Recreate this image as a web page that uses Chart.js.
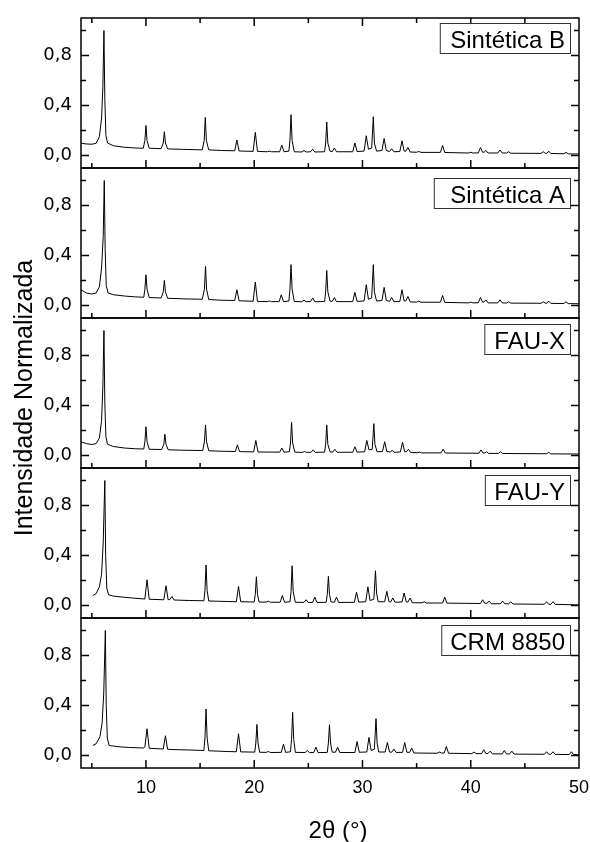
<!DOCTYPE html>
<html>
<head>
<meta charset="utf-8">
<script src="https://cdn.jsdelivr.net/npm/chart.js@4"></script>
<style>
  html, body { margin: 0; padding: 0; background: #fff; }
  canvas { display: block; }
</style>
</head>
<body>
<canvas id="xrd" width="590" height="842"></canvas>
<script>
// Axis ticks
const xTickValues = [10, 20, 30, 40, 50];
const xTickLabels = ['10', '20', '30', '40', '50'];
const xMinorValues = [5, 15, 25, 35, 45];
const yTickValues = [0, 0.4, 0.8];
const yTickLabels = ['0,0', '0,4', '0,8'];
const yMinorValues = [0.2, 0.6, 1.0];

// Samples, top panel first
const sampleNames = ['Sintética B', 'Sintética A', 'FAU-X', 'FAU-Y', 'CRM 8850'];

// Normalised diffractograms: [2θ, intensity]
const sinteticaB = [
  [4.0,0.100],[4.4,0.093],[5.0,0.090],[5.4,0.098],[5.7,0.150],[5.9,0.300],[6.02,0.55],[6.12,1.000],[6.2,0.45],[6.3,0.160],[6.45,0.100],
  [7.0,0.078],[8.0,0.066],[9.0,0.060],[9.75,0.058],[9.9,0.12],[10.0,0.240],[10.1,0.12],[10.3,0.058],[11.4,0.055],[11.6,0.10],[11.7,0.190],[11.8,0.10],[12.0,0.053],
  [13.5,0.049],[15.2,0.045],[15.38,0.12],[15.48,0.305],[15.58,0.12],[15.8,0.045],[17.0,0.040],[18.2,0.038],[18.4,0.124],[18.6,0.036],
  [19.9,0.033],[20.1,0.185],[20.3,0.033],[21.2,0.030],[21.4,0.035],[21.6,0.030],[22.35,0.030],[22.55,0.083],[22.75,0.030],
  [23.2,0.035],[23.3,0.12],[23.4,0.327],[23.5,0.12],[23.7,0.030],[24.4,0.028],[24.6,0.040],[24.8,0.028],[25.2,0.030],[25.4,0.050],[25.6,0.028],
  [26.5,0.030],[26.6,0.10],[26.7,0.268],[26.8,0.10],[27.0,0.035],[27.2,0.030],[27.4,0.060],[27.6,0.030],[29.1,0.030],[29.3,0.100],[29.5,0.032],
  [30.15,0.035],[30.35,0.158],[30.55,0.05],[30.85,0.06],[31.0,0.310],[31.1,0.10],[31.3,0.035],[31.8,0.04],[32.0,0.136],[32.2,0.04],
  [32.5,0.032],[32.7,0.054],[32.9,0.030],[33.45,0.032],[33.65,0.118],[33.85,0.035],[34.0,0.035],[34.2,0.064],[34.4,0.028],
  [35.0,0.026],[35.2,0.032],[35.4,0.025],[37.2,0.025],[37.4,0.080],[37.6,0.024],[39.8,0.020],[40.0,0.026],[40.2,0.020],
  [40.7,0.021],[40.9,0.064],[41.1,0.025],[41.25,0.028],[41.4,0.040],[41.6,0.020],[42.5,0.020],[42.7,0.044],[42.9,0.020],
  [43.3,0.020],[43.5,0.030],[43.7,0.018],[46.5,0.017],[46.7,0.030],[46.9,0.017],[47.05,0.018],[47.2,0.035],[47.4,0.016],
  [48.6,0.014],[48.8,0.025],[49.0,0.013],[50.0,0.012]
];
const sinteticaA = [
  [4.0,0.126],[4.5,0.100],[5.0,0.092],[5.4,0.100],[5.7,0.150],[5.9,0.300],[6.05,0.55],[6.15,1.000],[6.23,0.45],[6.33,0.160],[6.5,0.100],
  [7.0,0.086],[8.0,0.076],[9.0,0.069],[9.8,0.066],[9.9,0.13],[10.0,0.246],[10.1,0.13],[10.3,0.064],[11.4,0.060],[11.6,0.11],[11.7,0.200],[11.8,0.11],[12.0,0.058],
  [13.5,0.053],[15.2,0.050],[15.4,0.13],[15.5,0.313],[15.6,0.13],[15.8,0.048],[17.0,0.042],[18.2,0.040],[18.4,0.126],[18.6,0.038],
  [19.9,0.034],[20.1,0.188],[20.3,0.033],[21.2,0.031],[21.4,0.036],[21.6,0.031],[22.3,0.031],[22.5,0.086],[22.7,0.031],
  [23.2,0.036],[23.3,0.13],[23.4,0.327],[23.5,0.13],[23.7,0.032],[24.4,0.030],[24.6,0.042],[24.8,0.030],[25.2,0.031],[25.4,0.060],[25.6,0.030],
  [26.5,0.032],[26.6,0.11],[26.7,0.280],[26.8,0.11],[27.0,0.036],[27.2,0.032],[27.4,0.064],[27.6,0.031],[29.1,0.031],[29.3,0.105],[29.5,0.033],
  [30.15,0.036],[30.35,0.166],[30.55,0.05],[30.85,0.06],[31.0,0.327],[31.1,0.11],[31.3,0.036],[31.8,0.040],[32.0,0.145],[32.2,0.040],
  [32.5,0.033],[32.7,0.064],[32.9,0.031],[33.45,0.033],[33.65,0.126],[33.85,0.036],[34.0,0.036],[34.2,0.072],[34.4,0.029],
  [35.0,0.027],[35.2,0.035],[35.4,0.026],[37.2,0.026],[37.4,0.080],[37.6,0.025],[39.8,0.021],[40.0,0.027],[40.2,0.021],
  [40.7,0.022],[40.9,0.064],[41.1,0.026],[41.25,0.029],[41.4,0.045],[41.6,0.021],[42.5,0.021],[42.7,0.046],[42.9,0.021],
  [43.3,0.020],[43.5,0.030],[43.7,0.019],[46.5,0.018],[46.7,0.030],[46.9,0.018],[47.05,0.019],[47.2,0.035],[47.4,0.017],
  [48.6,0.016],[48.8,0.030],[49.0,0.015],[50.0,0.014]
];
const fauX = [
  [4.0,0.110],[4.5,0.095],[5.0,0.088],[5.4,0.095],[5.7,0.140],[5.9,0.280],[6.02,0.55],[6.12,1.000],[6.2,0.42],[6.3,0.150],[6.45,0.090],
  [7.0,0.072],[8.0,0.060],[9.0,0.054],[9.8,0.052],[9.9,0.11],[10.0,0.230],[10.1,0.11],[10.3,0.050],[11.45,0.048],[11.65,0.09],[11.75,0.170],[11.85,0.09],[12.05,0.046],
  [13.5,0.042],[15.25,0.040],[15.4,0.11],[15.5,0.245],[15.6,0.11],[15.8,0.038],[17.0,0.034],[18.25,0.032],[18.45,0.085],[18.65,0.031],
  [19.95,0.029],[20.15,0.120],[20.35,0.028],[22.35,0.027],[22.55,0.060],[22.75,0.027],
  [23.25,0.03],[23.35,0.10],[23.45,0.265],[23.55,0.10],[23.75,0.027],[24.45,0.025],[24.65,0.032],[24.85,0.025],[25.25,0.026],[25.45,0.045],[25.65,0.025],
  [26.5,0.027],[26.6,0.09],[26.7,0.245],[26.8,0.09],[27.0,0.03],[27.25,0.027],[27.45,0.050],[27.65,0.026],[29.1,0.026],[29.3,0.070],[29.5,0.027],
  [30.2,0.03],[30.4,0.120],[30.6,0.045],[30.9,0.05],[31.05,0.255],[31.15,0.09],[31.35,0.03],[31.85,0.032],[32.05,0.110],[32.25,0.032],
  [32.55,0.028],[32.75,0.040],[32.95,0.026],[33.5,0.028],[33.7,0.105],[33.9,0.03],[34.05,0.03],[34.25,0.050],[34.45,0.024],
  [35.05,0.022],[35.25,0.027],[35.45,0.021],[37.25,0.021],[37.45,0.050],[37.65,0.020],
  [40.75,0.018],[40.95,0.045],[41.15,0.019],[41.3,0.020],[41.45,0.030],[41.65,0.017],[42.55,0.017],[42.75,0.030],[42.95,0.016],
  [47.0,0.014],[47.2,0.025],[47.4,0.013],[50.0,0.012]
];
const fauY = [
  [5.1,0.080],[5.4,0.095],[5.7,0.150],[5.9,0.25],[6.05,0.5],[6.2,1.000],[6.28,0.4],[6.38,0.14],[6.55,0.086],
  [7.0,0.075],[8.0,0.066],[9.0,0.058],[9.9,0.052],[10.1,0.206],[10.3,0.050],[11.65,0.046],[11.85,0.158],[12.05,0.046],[12.2,0.048],[12.4,0.072],[12.6,0.044],
  [14.0,0.040],[15.35,0.038],[15.45,0.12],[15.55,0.324],[15.65,0.12],[15.8,0.036],[17.5,0.032],[18.35,0.030],[18.55,0.153],[18.75,0.030],
  [20.0,0.028],[20.1,0.09],[20.2,0.230],[20.3,0.09],[20.45,0.028],[21.1,0.027],[21.3,0.034],[21.5,0.026],[22.4,0.026],[22.6,0.080],[22.8,0.026],
  [23.3,0.03],[23.4,0.11],[23.5,0.318],[23.6,0.11],[23.8,0.026],[24.6,0.025],[24.8,0.046],[25.0,0.024],[25.4,0.025],[25.6,0.067],[25.8,0.024],
  [26.65,0.026],[26.75,0.09],[26.85,0.233],[26.95,0.09],[27.1,0.028],[27.4,0.026],[27.6,0.067],[27.8,0.025],[29.25,0.025],[29.45,0.107],[29.65,0.027],
  [30.3,0.03],[30.5,0.150],[30.7,0.04],[31.05,0.05],[31.2,0.278],[31.3,0.10],[31.45,0.03],[32.05,0.03],[32.25,0.113],[32.45,0.03],
  [32.6,0.028],[32.8,0.060],[33.0,0.026],[33.65,0.028],[33.85,0.100],[34.05,0.028],[34.2,0.028],[34.4,0.060],[34.6,0.022],
  [35.5,0.022],[35.7,0.030],[35.9,0.020],[37.4,0.020],[37.6,0.067],[37.8,0.019],
  [40.9,0.016],[41.1,0.046],[41.3,0.018],[41.5,0.018],[41.7,0.035],[41.9,0.014],[42.75,0.014],[42.95,0.035],[43.15,0.014],
  [43.5,0.014],[43.7,0.030],[43.9,0.012],[46.8,0.010],[47.0,0.030],[47.2,0.010],[47.4,0.010],[47.6,0.030],[47.8,0.009],[50.0,0.005]
];
const crm8850 = [
  [5.1,0.080],[5.4,0.095],[5.75,0.150],[5.95,0.26],[6.1,0.5],[6.25,1.000],[6.33,0.4],[6.43,0.14],[6.6,0.080],
  [7.5,0.070],[8.5,0.064],[9.8,0.060],[9.9,0.07],[10.1,0.214],[10.3,0.058],[11.6,0.052],[11.8,0.158],[12.0,0.050],[12.3,0.048],
  [14.0,0.044],[15.35,0.040],[15.45,0.14],[15.55,0.372],[15.65,0.14],[15.8,0.038],[17.5,0.032],[18.35,0.030],[18.55,0.174],[18.75,0.029],
  [20.05,0.027],[20.15,0.10],[20.25,0.249],[20.35,0.10],[20.5,0.026],[21.1,0.025],[21.3,0.032],[21.5,0.024],[22.5,0.025],[22.7,0.090],[22.9,0.025],
  [23.35,0.03],[23.45,0.13],[23.55,0.345],[23.65,0.13],[23.8,0.025],[24.7,0.024],[24.9,0.040],[25.1,0.023],[25.5,0.024],[25.7,0.067],[25.9,0.023],
  [26.75,0.025],[26.85,0.10],[26.95,0.246],[27.05,0.10],[27.2,0.027],[27.5,0.026],[27.7,0.067],[27.9,0.024],[29.3,0.024],[29.5,0.112],[29.7,0.026],
  [30.4,0.028],[30.6,0.145],[30.8,0.04],[31.1,0.05],[31.25,0.295],[31.35,0.10],[31.5,0.028],[32.1,0.028],[32.3,0.104],[32.5,0.028],
  [32.7,0.026],[32.9,0.051],[33.1,0.025],[33.7,0.025],[33.9,0.104],[34.1,0.026],[34.35,0.025],[34.55,0.059],[34.75,0.020],
  [36.9,0.018],[37.1,0.028],[37.3,0.020],[37.55,0.020],[37.75,0.072],[37.95,0.018],[40.1,0.015],[40.3,0.028],[40.5,0.015],
  [41.0,0.015],[41.2,0.046],[41.4,0.016],[41.6,0.016],[41.8,0.035],[42.0,0.013],[42.9,0.013],[43.1,0.040],[43.3,0.013],
  [43.6,0.013],[43.8,0.035],[44.0,0.011],[46.8,0.010],[47.0,0.030],[47.2,0.010],[47.4,0.010],[47.6,0.030],[47.8,0.009],
  [49.1,0.008],[49.3,0.030],[49.5,0.007],[50.0,0.006]
];
const patterns = [sinteticaB, sinteticaA, fauX, fauY, crm8850];

// Sample label boxes: offset below panel top and left text padding
const labelBoxes = [
  { dy: 5,  padL: 10.5 },
  { dy: 10, padL: 16.5 },
  { dy: 6,  padL: 10 },
  { dy: 7,  padL: 9.5 },
  { dy: 7,  padL: 9 }
];

const ARIAL = '"Liberation Sans", Arial, sans-serif';

const scales = {
  x: {
    type: 'linear', position: 'bottom', min: 4, max: 50,
    grid: { display: false, drawTicks: false },
    border: { display: false },
    afterBuildTicks: s => { s.ticks = xTickValues.map(v => ({ value: v })); },
    afterFit: s => { s.height = 74; s.paddingLeft = 0; s.paddingRight = 0; },
    ticks: {
      padding: 9, color: '#000', autoSkip: false, maxRotation: 0,
      font: { family: ARIAL, size: 18 },
      callback: (v, i) => xTickLabels[i]
    }
  }
};
sampleNames.forEach((name, i) => {
  scales['y' + i] = {
    type: 'linear', position: 'left', stack: 'panels', stackWeight: 1,
    weight: sampleNames.length - i,
    min: -0.1, max: 1.1,
    grid: { display: false, drawTicks: false },
    border: { display: false },
    afterBuildTicks: s => { s.ticks = yTickValues.map(v => ({ value: v })); },
    afterFit: s => { s.width = 81; s.paddingTop = 0; s.paddingBottom = 0; },
    ticks: {
      padding: 9, color: '#000', autoSkip: false,
      font: { family: '"DejaVu Sans", sans-serif', size: 18 },
      callback: (v, idx) => yTickLabels[idx]
    }
  };
});

// Panel frames, inward tick marks, sample labels and axis titles
const framePlugin = {
  id: 'frame',
  afterDraw(chart) {
    const ctx = chart.ctx;
    const ca = chart.chartArea;
    const xs = chart.scales.x;
    const MAJ = 8, MIN = 5;
    ctx.save();
    ctx.strokeStyle = '#000';
    ctx.lineWidth = 1.5;
    sampleNames.forEach((name, i) => {
      const ys = chart.scales['y' + i];
      const top = ys.top, bot = ys.bottom;
      ctx.beginPath();
      // bottom ticks (pointing up) and, for the top panel, top ticks
      const xt = (vals, len) => vals.forEach(v => {
        const px = xs.getPixelForValue(v);
        if (px >= ca.right - 1) return;
        ctx.moveTo(px, bot); ctx.lineTo(px, bot - len);
        if (i === 0) { ctx.moveTo(px, top); ctx.lineTo(px, top + len); }
      });
      xt(xTickValues, MAJ); xt(xMinorValues, MIN);
      const yt = (vals, len) => vals.forEach(v => {
        const py = ys.getPixelForValue(v);
        ctx.moveTo(ca.left, py); ctx.lineTo(ca.left + len, py);
        ctx.moveTo(ca.right, py); ctx.lineTo(ca.right - len, py);
      });
      yt(yTickValues, MAJ); yt(yMinorValues, MIN);
      ctx.stroke();
      ctx.strokeRect(ca.left, top, ca.right - ca.left, bot - top);

      // sample label box
      const lb = labelBoxes[i];
      ctx.font = '24px ' + ARIAL;
      const tw = ctx.measureText(name).width;
      const bx1 = ca.right - 9, bx0 = bx1 - tw - lb.padL - 5;
      const by0 = top + lb.dy;
      ctx.save();
      ctx.fillStyle = '#fff';
      ctx.fillRect(bx0, by0, bx1 - bx0, 30);
      ctx.lineWidth = 1;
      ctx.strokeStyle = '#333';
      ctx.strokeRect(bx0 + 0.5, by0 + 0.5, bx1 - bx0, 30);
      ctx.fillStyle = '#000';
      ctx.textBaseline = 'alphabetic';
      ctx.textAlign = 'left';
      ctx.fillText(name, bx0 + lb.padL, by0 + 24.5);
      ctx.restore();
    });

    // axis titles
    ctx.fillStyle = '#000';
    ctx.font = '25px ' + ARIAL;
    ctx.textAlign = 'center';
    ctx.textBaseline = 'alphabetic';
    ctx.save();
    ctx.translate(32, (ca.top + ca.bottom) / 2 + 5);
    ctx.rotate(-Math.PI / 2);
    ctx.fillText('Intensidade Normalizada', 0, 0);
    ctx.restore();
    ctx.font = '24px ' + ARIAL;
    ctx.fillText('2θ (°)', (ca.left + ca.right) / 2 + 8, 838);
    ctx.restore();
  }
};

new Chart(document.getElementById('xrd'), {
  type: 'line',
  data: {
    datasets: patterns.map((d, i) => ({
      label: sampleNames[i],
      data: d,
      xAxisID: 'x',
      yAxisID: 'y' + i,
      borderColor: '#000',
      borderWidth: 1,
      pointRadius: 0,
      tension: 0,
      fill: false
    }))
  },
  options: {
    responsive: false,
    animation: false,
    devicePixelRatio: 1,
    layout: { padding: { top: 18, right: 11, left: 0, bottom: 0 } },
    plugins: { legend: { display: false }, tooltip: { enabled: false } },
    scales
  },
  plugins: [framePlugin]
});
</script>
</body>
</html>
